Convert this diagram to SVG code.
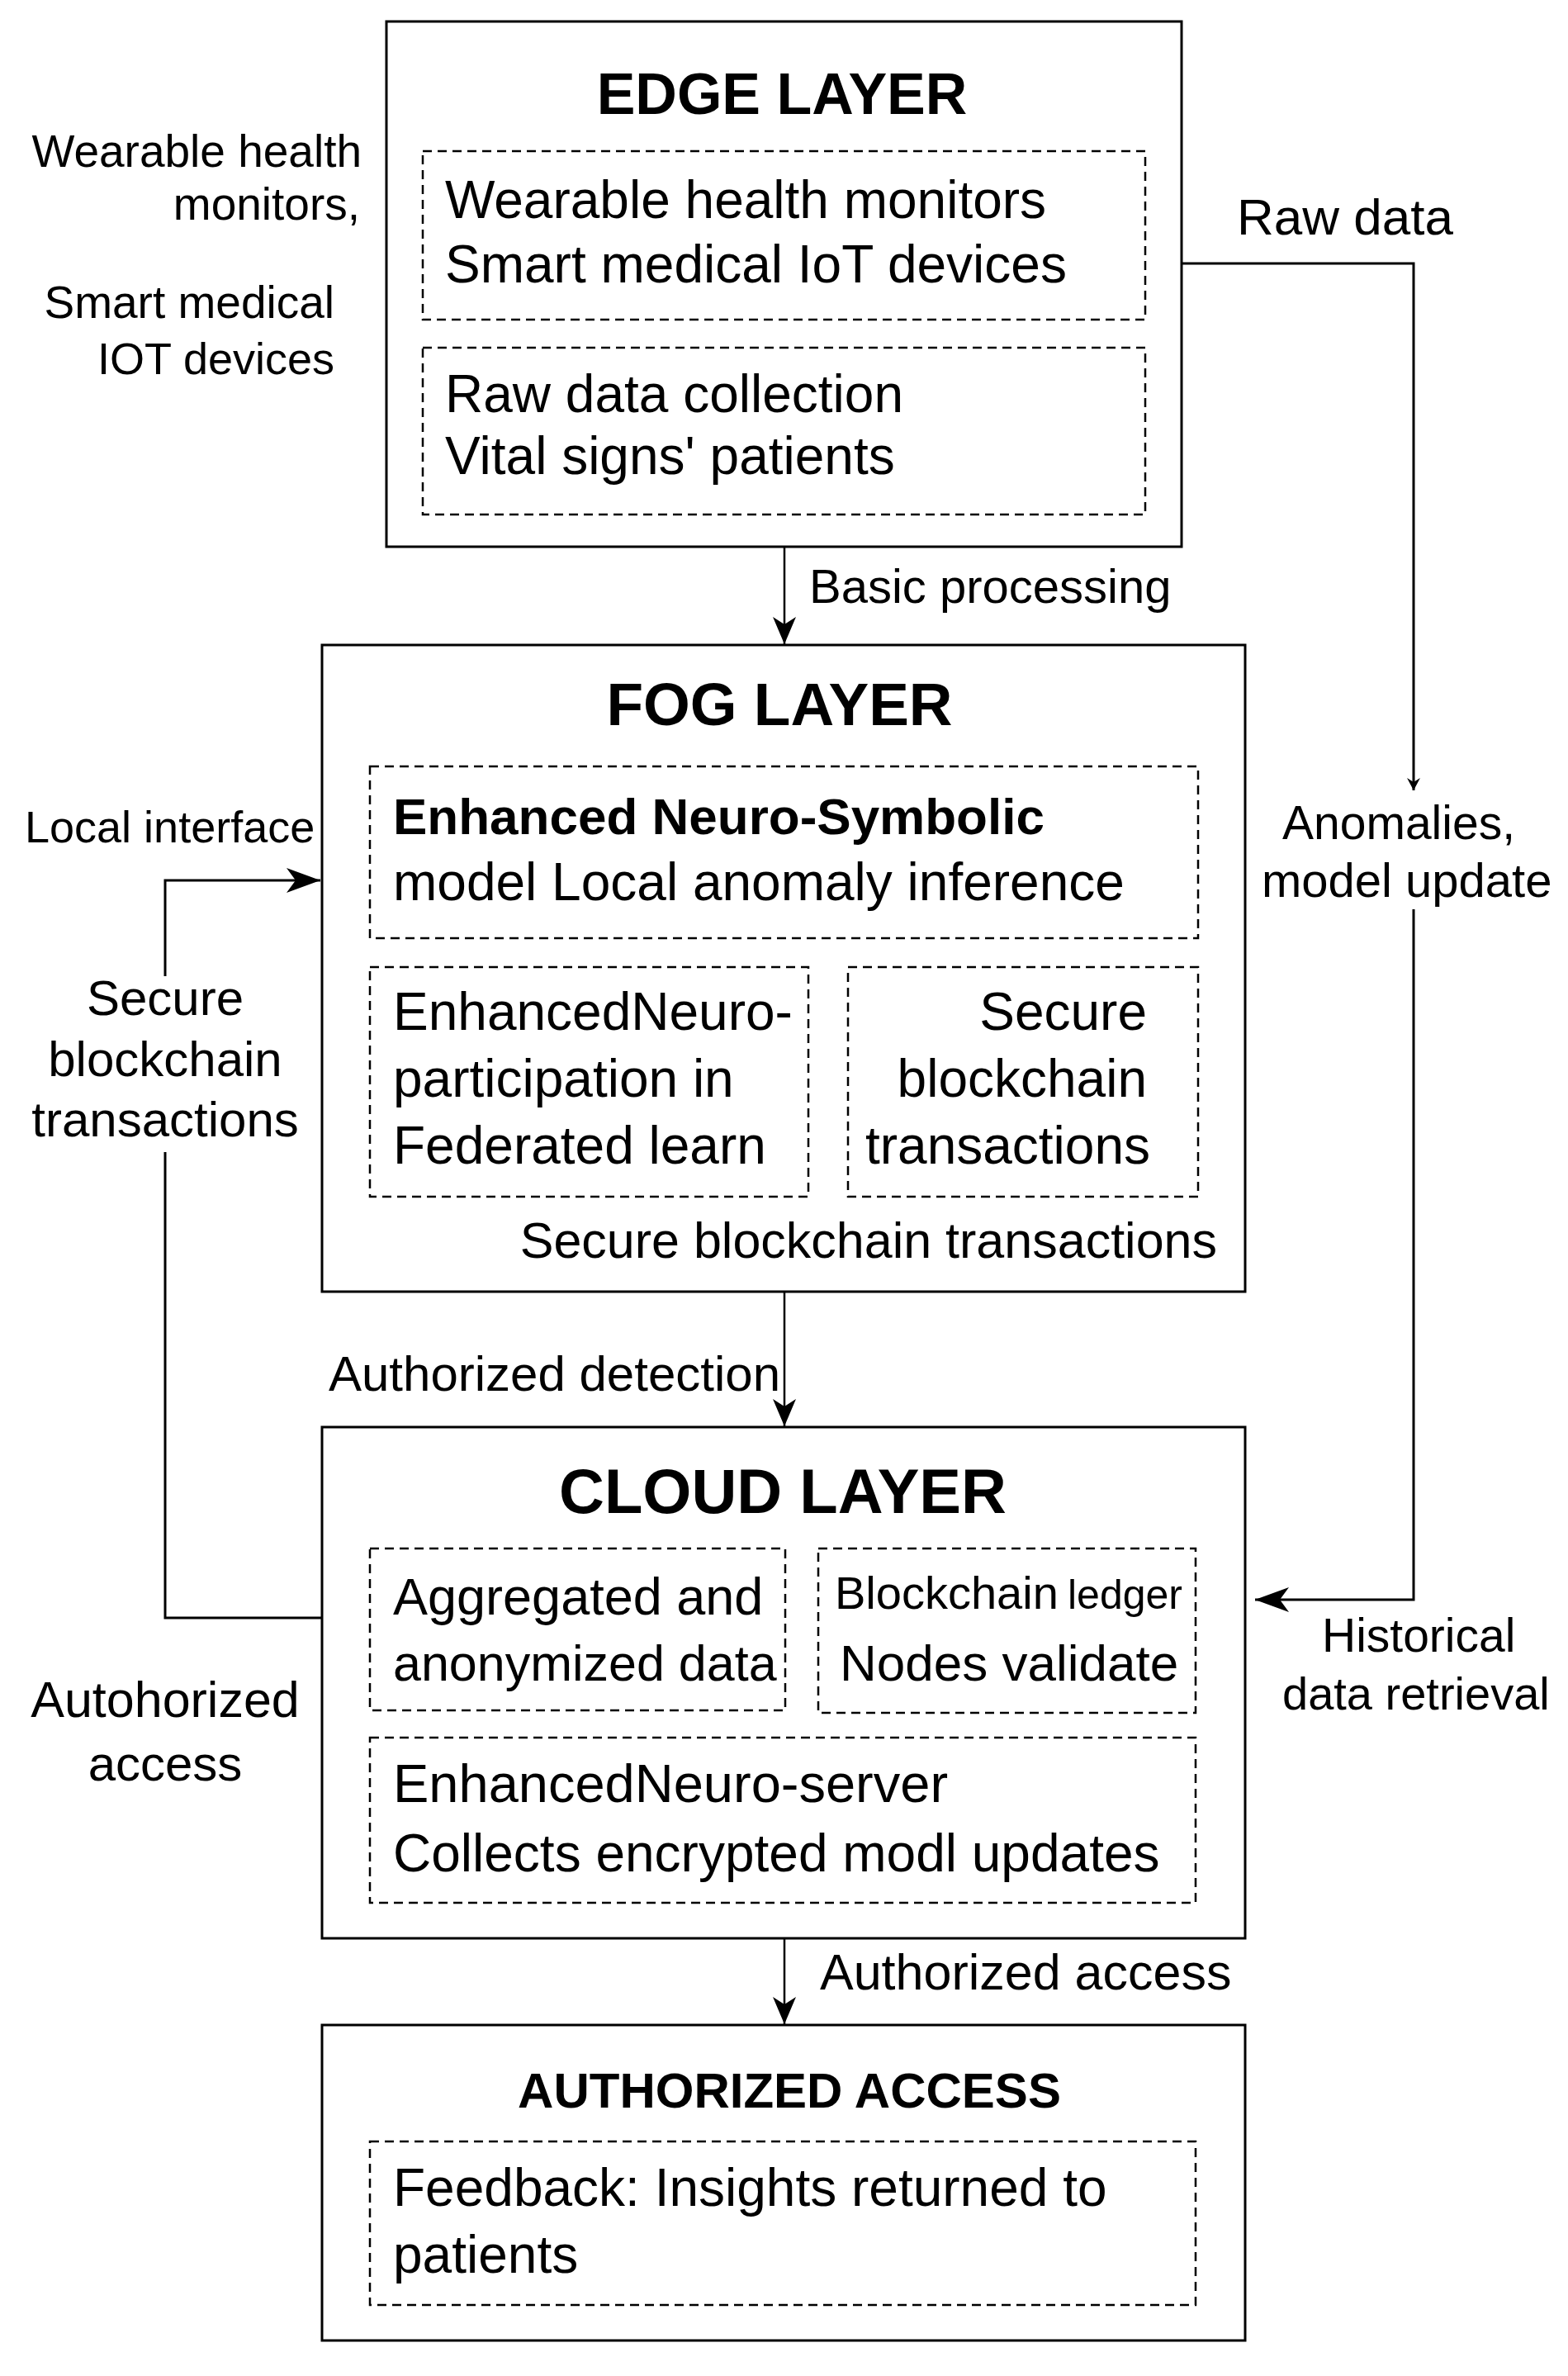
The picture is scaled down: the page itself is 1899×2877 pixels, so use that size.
<svg xmlns="http://www.w3.org/2000/svg" width="1899" height="2877" viewBox="0 0 1899 2877">
<style>
.box{fill:#fff;stroke:#000;stroke-width:3}
.dash{fill:none;stroke:#000;stroke-width:2.5;stroke-dasharray:11 7}
.line{fill:none;stroke:#000;stroke-width:3}
.thin{fill:none;stroke:#000;stroke-width:2.5}
text{font-family:"Liberation Sans",Arial,sans-serif;fill:#000}
.title{font-weight:bold;text-anchor:middle}
.body{font-size:64px}
.lbl{font-size:58px}
</style>
<defs>
<marker id="arrS" markerUnits="userSpaceOnUse" viewBox="-34 -16 36 32" refX="0" refY="0" markerWidth="36" markerHeight="32" orient="auto">
<path d="M0,0 L-33,-14 L-24,0 L-33,14 Z" fill="#000"/>
</marker>
<marker id="arrB" markerUnits="userSpaceOnUse" viewBox="-42 -17 44 34" refX="0" refY="0" markerWidth="44" markerHeight="34" orient="auto">
<path d="M0,0 L-41,-15 L-30,0 L-41,15 Z" fill="#000"/>
</marker>
<marker id="arrT" markerUnits="userSpaceOnUse" viewBox="-16 -9 18 18" refX="0" refY="0" markerWidth="18" markerHeight="18" orient="auto">
<path d="M0,0 L-15,-8 L-10,0 L-15,8 Z" fill="#000"/>
</marker>
</defs>
<rect width="1899" height="2877" fill="#fff"/>

<g id="connectors">
<path class="line" d="M1431,319 H1712 V957" marker-end="url(#arrT)"/>
<path class="line" d="M1712,1101 V1937 H1520" marker-end="url(#arrB)"/>
<path class="thin" d="M950,662 V780" marker-end="url(#arrS)"/>
<path class="thin" d="M950,1564 V1727" marker-end="url(#arrS)"/>
<path class="thin" d="M950,2347 V2451" marker-end="url(#arrS)"/>
<path class="line" d="M390,1959 H200 V1395"/>
<path class="line" d="M200,1182 V1066 H388" marker-end="url(#arrB)"/>
</g>

<g id="edge-labels">
<text class="lbl" x="980" y="730" style="font-size:58px">Basic processing</text>
<text x="1498" y="284" style="font-size:62px">Raw data</text>
<text x="1553" y="1016" style="font-size:57px">Anomalies,</text>
<text x="1528" y="1086" style="font-size:58px">model update</text>
<text x="30" y="1020" style="font-size:54px">Local interface</text>
<text text-anchor="middle" x="200" y="1229" style="font-size:60px">Secure</text>
<text text-anchor="middle" x="200" y="1303" style="font-size:60px">blockchain</text>
<text text-anchor="middle" x="200" y="1376" style="font-size:60px">transactions</text>
<text text-anchor="end" x="945" y="1684" style="font-size:60px">Authorized detection</text>
<text x="1601" y="2000" style="font-size:57px">Historical</text>
<text x="1553" y="2070" style="font-size:56px">data retrieval</text>
<text text-anchor="middle" x="200" y="2079" style="font-size:61px">Autohorized</text>
<text text-anchor="middle" x="200" y="2156" style="font-size:60px">access</text>
<text x="993" y="2409" style="font-size:61px">Authorized access</text>
</g>

<g id="device-labels">
<text text-anchor="end" x="438" y="202" style="font-size:55px">Wearable health</text>
<text text-anchor="end" x="436" y="266" style="font-size:55px">monitors,</text>
<text text-anchor="end" x="405" y="385" style="font-size:55px">Smart medical</text>
<text text-anchor="end" x="405" y="453" style="font-size:54px">IOT devices</text>
</g>

<g id="edge-layer">
<rect class="box" x="468" y="26" width="963" height="636"/>
<text class="title" x="947" y="138" style="font-size:70px">EDGE LAYER</text>
<rect class="dash" x="512" y="183" width="875" height="204"/>
<text class="body" x="539" y="264">Wearable health monitors</text>
<text class="body" x="539" y="342">Smart medical IoT devices</text>
<rect class="dash" x="512" y="421" width="875" height="202"/>
<text class="body" x="539" y="499">Raw data collection</text>
<text class="body" x="539" y="574">Vital signs' patients</text>
</g>

<g id="fog-layer">
<rect class="box" x="390" y="781" width="1118" height="783"/>
<text class="title" x="944" y="878" style="font-size:73px">FOG LAYER</text>
<rect class="dash" x="448" y="928" width="1003" height="208"/>
<text x="476" y="1010" style="font-size:62px;font-weight:bold">Enhanced Neuro-Symbolic</text>
<text class="body" x="476" y="1090">model Local anomaly inference</text>
<rect class="dash" x="448" y="1171" width="531" height="278"/>
<text class="body" x="476" y="1247">EnhancedNeuro-</text>
<text class="body" x="476" y="1328">participation in</text>
<text class="body" x="476" y="1409">Federated learn</text>
<rect class="dash" x="1027" y="1171" width="424" height="278"/>
<text class="body" text-anchor="end" x="1389" y="1247">Secure</text>
<text class="body" text-anchor="end" x="1389" y="1328">blockchain</text>
<text class="body" text-anchor="end" x="1393" y="1409">transactions</text>
<text text-anchor="end" x="1474" y="1523" style="font-size:61px">Secure blockchain transactions</text>
</g>

<g id="cloud-layer">
<rect class="box" x="390" y="1728" width="1118" height="619"/>
<text class="title" x="948" y="1832" style="font-size:76px">CLOUD LAYER</text>
<rect class="dash" x="448" y="1875" width="503" height="196"/>
<text x="476" y="1955" style="font-size:63px">Aggregated and</text>
<text x="476" y="2035" style="font-size:61px">anonymized data</text>
<rect class="dash" x="991" y="1875" width="457" height="199"/>
<text x="1011" y="1948"><tspan style="font-size:56px">Blockchain</tspan><tspan x="1293" style="font-size:50px">ledger</tspan></text>
<text x="1017" y="2035" style="font-size:62px">Nodes validate</text>
<rect class="dash" x="448" y="2104" width="1000" height="200"/>
<text x="476" y="2182" style="font-size:65px">EnhancedNeuro-server</text>
<text class="body" x="476" y="2266">Collects encrypted modl updates</text>
</g>

<g id="authorized-access">
<rect class="box" x="390" y="2452" width="1118" height="382"/>
<text class="title" x="956" y="2552" style="font-size:60px">AUTHORIZED ACCESS</text>
<rect class="dash" x="448" y="2593" width="1000" height="198"/>
<text class="body" x="476" y="2671">Feedback: Insights returned to</text>
<text class="body" x="476" y="2752">patients</text>
</g>
</svg>
